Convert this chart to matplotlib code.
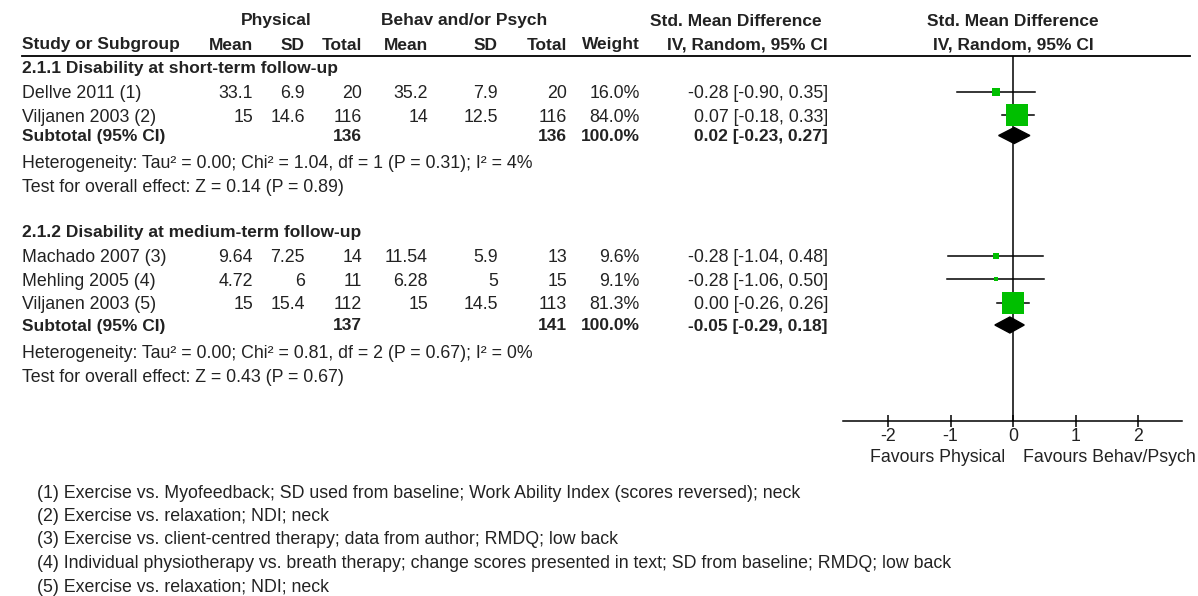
import matplotlib
matplotlib.use('Agg')
import matplotlib.pyplot as plt
from matplotlib.patches import Polygon

plt.rcParams['font.family'] = ['Liberation Sans', 'DejaVu Sans']

# ---- data ----
group_titles = ['2.1.1 Disability at short-term follow-up',
                '2.1.2 Disability at medium-term follow-up']
study_names = ['Dellve 2011 (1)', 'Viljanen 2003 (2)',
               'Machado 2007 (3)', 'Mehling 2005 (4)', 'Viljanen 2003 (5)']
study_group = [0, 0, 1, 1, 1]
phys_mean = [33.1, 15, 9.64, 4.72, 15]
phys_sd = [6.9, 14.6, 7.25, 6, 15.4]
phys_n = [20, 116, 14, 11, 112]
beh_mean = [35.2, 14, 11.54, 6.28, 15]
beh_sd = [7.9, 12.5, 5.9, 5, 14.5]
beh_n = [20, 116, 13, 15, 113]
weight = [16.0, 84.0, 9.6, 9.1, 81.3]
smd = [-0.28, 0.07, -0.28, -0.28, 0.00]
ci_lo = [-0.90, -0.18, -1.04, -1.06, -0.26]
ci_hi = [0.35, 0.33, 0.48, 0.50, 0.26]

sub_phys_n = [136, 137]
sub_beh_n = [136, 141]
sub_smd = [0.02, -0.05]
sub_lo = [-0.23, -0.29]
sub_hi = [0.27, 0.18]
heterogeneity = ['Heterogeneity: Tau² = 0.00; Chi² = 1.04, df = 1 (P = 0.31); I² = 4%',
                 'Heterogeneity: Tau² = 0.00; Chi² = 0.81, df = 2 (P = 0.67); I² = 0%']
overall = ['Test for overall effect: Z = 0.14 (P = 0.89)',
           'Test for overall effect: Z = 0.43 (P = 0.67)']
footnotes = ['(1) Exercise vs. Myofeedback; SD used from baseline; Work Ability Index (scores reversed); neck',
             '(2) Exercise vs. relaxation; NDI; neck',
             '(3) Exercise vs. client-centred therapy; data from author; RMDQ; low back',
             '(4) Individual physiotherapy vs. breath therapy; change scores presented in text; SD from baseline; RMDQ; low back',
             '(5) Exercise vs. relaxation; NDI; neck']
ticks = [-2, -1, 0, 1, 2]
left_label = 'Favours Physical'
right_label = 'Favours Behav/Psych'

# ---- layout (pixels) ----
W, H = 1198, 596
FS = 12.8
FSB = 12.5
TXT = '#222222'
GREEN = '#00bf00'
col_x = {'pm': 253, 'psd': 305, 'pn': 362, 'bm': 428, 'bsd': 498, 'bn': 567,
         'w': 640, 'ci': 828}
group_top = [68, 232]
step = 23.5
x0_px, x1_px, zero_px, unit_px = 843, 1182, 1013, 62.5
axis_y, head_y = 421, 56

fig = plt.figure(figsize=(W / 100, H / 100), dpi=100)
tab = fig.add_axes([0, 0, 1, 1])
tab.set_xlim(0, W)
tab.set_ylim(H, 0)
tab.axis('off')


def put(x, y, s, ha='left', bold=False):
    tab.text(x, y, s, ha=ha, va='center', fontsize=FSB if bold else FS, color=TXT,
             fontweight='bold' if bold else 'normal')


# header
put(276, 21, 'Physical', ha='center', bold=True)
put(464, 21, 'Behav and/or Psych', ha='center', bold=True)
put(736, 21, 'Std. Mean Difference', ha='center', bold=True)
put(zero_px, 21, 'Std. Mean Difference', ha='center', bold=True)
put(22, 45, 'Study or Subgroup', bold=True)
for key, lab in [('pm', 'Mean'), ('psd', 'SD'), ('pn', 'Total'), ('bm', 'Mean'),
                 ('bsd', 'SD'), ('bn', 'Total'), ('w', 'Weight'),
                 ('ci', 'IV, Random, 95% CI')]:
    put(col_x[key], 45, lab, ha='right', bold=True)
put(zero_px, 45, 'IV, Random, 95% CI', ha='center', bold=True)
tab.plot([22, 1190], [head_y, head_y], color='black', lw=1.3)

# forest axes
fx = fig.add_axes([x0_px / W, 1 - axis_y / H, (x1_px - x0_px) / W, (axis_y - head_y) / H])
fx.set_xlim((x0_px - zero_px) / unit_px, (x1_px - zero_px) / unit_px)
fx.set_ylim(axis_y, head_y)
fx.patch.set_alpha(0)
for sp in ['top', 'left', 'right']:
    fx.spines[sp].set_visible(False)
fx.spines['bottom'].set_linewidth(1.1)
fx.set_yticks([])
fx.set_xticks(ticks)
fx.set_xticklabels([str(t) for t in ticks], fontsize=FS, color=TXT)
fx.tick_params(axis='x', direction='inout', length=8, width=1.1, pad=1)
fx.axvline(0, color='black', lw=1.1, zorder=1)

row_in_group = [0, 0]
for i, name in enumerate(study_names):
    g = study_group[i]
    row_in_group[g] += 1
    y = group_top[g] + step * row_in_group[g]
    put(22, y + 2, name)
    vals = [('pm', f'{phys_mean[i]:g}'), ('psd', f'{phys_sd[i]:g}'), ('pn', str(phys_n[i])),
            ('bm', f'{beh_mean[i]:g}'), ('bsd', f'{beh_sd[i]:g}'), ('bn', str(beh_n[i])),
            ('w', f'{weight[i]:.1f}%'),
            ('ci', f'{smd[i]:.2f} [{ci_lo[i]:.2f}, {ci_hi[i]:.2f}]')]
    for key, s in vals:
        put(col_x[key], y + 2, s, ha='right')
    fx.plot([ci_lo[i], ci_hi[i]], [y, y], color='black', lw=1.1, zorder=2)
    side = 23 * (weight[i] / 84.0) ** 0.7
    fx.plot(smd[i], y, marker='s', ms=side * 0.72, color=GREEN, mec=GREEN,
            mew=0, zorder=3)

for g, title in enumerate(group_titles):
    top = group_top[g]
    n = study_group.count(g)
    put(22, top, title, bold=True)
    ys = top + step * (n + 1) - (2 if n == 2 else 0)
    put(22, ys, 'Subtotal (95% CI)', bold=True)
    put(col_x['pn'], ys, str(sub_phys_n[g]), ha='right', bold=True)
    put(col_x['bn'], ys, str(sub_beh_n[g]), ha='right', bold=True)
    put(col_x['w'], ys, '100.0%', ha='right', bold=True)
    put(col_x['ci'], ys, f'{sub_smd[g]:.2f} [{sub_lo[g]:.2f}, {sub_hi[g]:.2f}]',
        ha='right', bold=True)
    put(22, ys + 27, heterogeneity[g])
    put(22, ys + 51, overall[g])
    yd = ys - 1
    fx.add_patch(Polygon([(sub_lo[g], yd), (sub_smd[g], yd - 8),
                          (sub_hi[g], yd), (sub_smd[g], yd + 8)],
                         closed=True, color='black', zorder=4))

put(1005, 457, left_label, ha='right')
put(1023, 457, right_label, ha='left')

for k, note in enumerate(footnotes):
    put(37, 493 + 23.5 * k, note)

fig.savefig('out.png', dpi=100, facecolor='white')
